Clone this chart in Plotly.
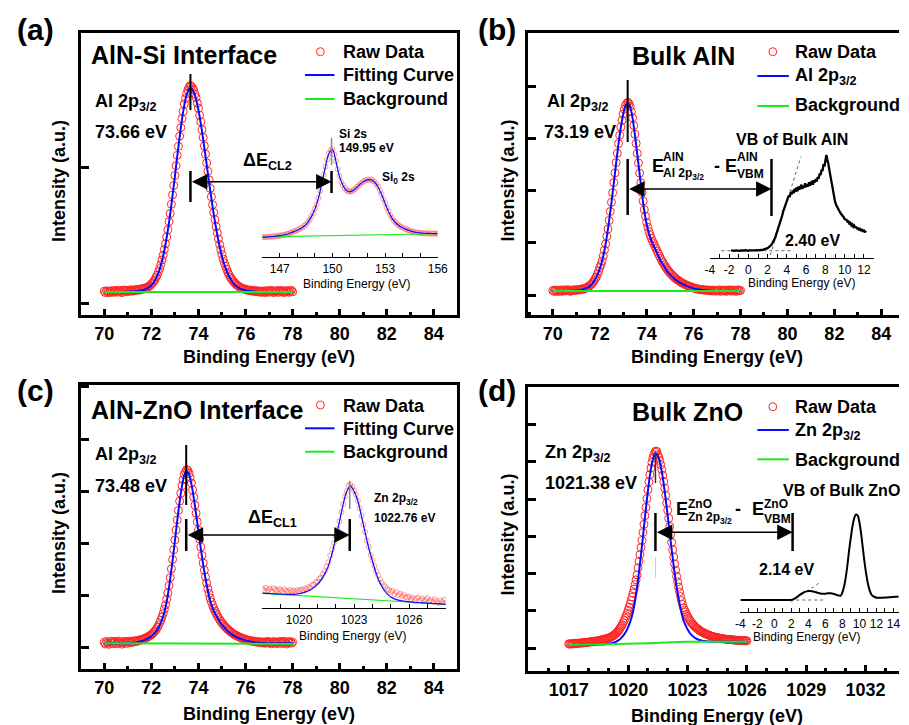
import numpy as np
import plotly.graph_objects as go

W, H = 909, 725
FONT = "Arial, 'Liberation Sans', sans-serif"
RED = "#ff2424"
BLUE = "#0a0aff"
GREEN = "#1ee81e"
PINK = "rgba(255,80,80,0.55)"

# ===================== DATA =====================
# (a) AlN-Si interface, Al 2p3/2 (normalised intensity)
A_RAW_E0, A_RAW_DE = 70.0, 0.05
A_RAW = [
    0.004, -0.003, 0.006, 0.002, -0.004, 0.005, 0.000, 0.007, -0.002, 0.003,
    0.008, -0.001, 0.004, 0.009, 0.002, -0.003, 0.006, 0.010, 0.003, 0.008,
    0.002, 0.009, 0.005, 0.011, 0.004, 0.010, 0.007, 0.012, 0.008, 0.014,
    0.010, 0.015, 0.012, 0.018, 0.016, 0.020, 0.021, 0.024, 0.029, 0.031,
    0.040, 0.044, 0.053, 0.060, 0.073, 0.083, 0.099, 0.115, 0.134, 0.157,
    0.180, 0.208, 0.236, 0.270, 0.305, 0.345, 0.385, 0.430, 0.476, 0.522,
    0.571, 0.619, 0.670, 0.714, 0.764, 0.806, 0.850, 0.885, 0.922, 0.948,
    0.973, 0.990, 1.004, 1.012, 1.008, 0.998, 0.990, 0.970, 0.953, 0.926,
    0.901, 0.866, 0.834, 0.795, 0.758, 0.716, 0.676, 0.633, 0.592, 0.550,
    0.508, 0.467, 0.428, 0.390, 0.355, 0.321, 0.290, 0.260, 0.233, 0.207,
    0.184, 0.162, 0.143, 0.126, 0.111, 0.096, 0.085, 0.073, 0.065, 0.056,
    0.050, 0.043, 0.038, 0.032, 0.029, 0.024, 0.022, 0.018, 0.017, 0.013,
    0.014, 0.010, 0.011, 0.007, 0.009, 0.005, 0.008, 0.003, 0.007, 0.002,
    0.006, 0.001, 0.005, -0.002, 0.004, 0.000, 0.006, -0.003, 0.003, 0.007,
    -0.001, 0.004, 0.008, 0.001, -0.003, 0.005, 0.002, 0.007, -0.002, 0.004,
    0.008, 0.000, 0.005, -0.003, 0.006, 0.002, 0.007, -0.001, 0.004, 0.008,
    0.001,
]
A_FIT_E0, A_FIT_DE = 70.0, 0.1
A_FIT = [
    0, 0, 0, 0, 0, 0, 0, 0, 0, 0.001,
    0.001, 0.002, 0.002, 0.003, 0.004, 0.006, 0.008, 0.011, 0.016, 0.023,
    0.033, 0.047, 0.067, 0.094, 0.130, 0.176, 0.233, 0.302, 0.382, 0.472,
    0.567, 0.665, 0.759, 0.845, 0.916, 0.967, 0.995, 0.998, 0.981, 0.944,
    0.892, 0.825, 0.749, 0.666, 0.582, 0.498, 0.418, 0.345, 0.280, 0.223,
    0.174, 0.134, 0.102, 0.076, 0.056, 0.040, 0.029, 0.021, 0.015, 0.011,
    0.008, 0.006, 0.004, 0.003, 0.002, 0.001, 0, 0, 0, 0,
    0, 0, 0, 0, 0, 0, 0, 0, 0, 0,
    0,
]
A_BG_E = [70.0, 78.0]
A_BG = [0.0, 0.0]
A_PEAK = 73.66

# (a) inset: Si 2s
IA_RAW_E0, IA_RAW_DE = 146.0, 0.1
IA_RAW = [
    0.004, -0.003, 0.006, 0.002, 0.009, 0.004, 0.012, 0.008, 0.016, 0.012,
    0.022, 0.018, 0.030, 0.027, 0.038, 0.040, 0.051, 0.055, 0.068, 0.070,
    0.083, 0.090, 0.104, 0.111, 0.131, 0.147, 0.173, 0.200, 0.238, 0.272,
    0.322, 0.375, 0.444, 0.523, 0.617, 0.708, 0.800, 0.881, 0.950, 0.988,
    0.998, 0.940, 0.864, 0.771, 0.694, 0.630, 0.592, 0.556, 0.534, 0.518,
    0.519, 0.520, 0.536, 0.548, 0.571, 0.585, 0.608, 0.621, 0.638, 0.644,
    0.654, 0.649, 0.656, 0.640, 0.630, 0.602, 0.574, 0.530, 0.489, 0.433,
    0.389, 0.335, 0.294, 0.250, 0.219, 0.186, 0.169, 0.146, 0.135, 0.118,
    0.111, 0.097, 0.093, 0.080, 0.078, 0.066, 0.065, 0.055, 0.057, 0.048,
    0.052, 0.044, 0.049, 0.042, 0.047, 0.040, 0.046, 0.039, 0.045, 0.038,
    0.044,
]
IA_FIT_E0, IA_FIT_DE = 146.0, 0.2
IA_FIT = [
    0.000, 0.003, 0.006, 0.009, 0.013, 0.019, 0.026, 0.035, 0.048, 0.064,
    0.080, 0.100, 0.128, 0.170, 0.234, 0.318, 0.440, 0.615, 0.796, 0.947,
    0.995, 0.860, 0.690, 0.589, 0.530, 0.515, 0.532, 0.568, 0.605, 0.635,
    0.650, 0.652, 0.626, 0.570, 0.485, 0.385, 0.290, 0.215, 0.165, 0.132,
    0.108, 0.090, 0.075, 0.062, 0.054, 0.049, 0.046, 0.044, 0.043, 0.042,
    0.041,
]
IA_BG_E = [146.0, 151.0, 156.0]
IA_BG = [0.005, 0.022, 0.040]
IA_PEAK = 149.95

# (b) Bulk AlN, Al 2p3/2
B_RAW_E0, B_RAW_DE = 70.0, 0.05
B_RAW = [
    0.003, -0.002, 0.005, 0.001, -0.003, 0.004, 0.000, 0.006, -0.002, 0.003,
    0.006, 0.000, 0.004, 0.007, 0.001, -0.002, 0.005, 0.002, 0.006, 0.003,
    0.007, 0.004, 0.008, 0.006, 0.010, 0.008, 0.013, 0.011, 0.017, 0.016,
    0.022, 0.025, 0.032, 0.037, 0.045, 0.053, 0.064, 0.074, 0.090, 0.106,
    0.125, 0.140, 0.160, 0.186, 0.218, 0.250, 0.290, 0.330, 0.375, 0.423,
    0.472, 0.523, 0.577, 0.628, 0.683, 0.733, 0.784, 0.828, 0.872, 0.908,
    0.942, 0.967, 0.987, 0.998, 1.004, 0.996, 0.982, 0.954, 0.921, 0.880,
    0.834, 0.785, 0.732, 0.681, 0.627, 0.576, 0.525, 0.478, 0.432, 0.398,
    0.364, 0.339, 0.316, 0.296, 0.280, 0.265, 0.252, 0.238, 0.225, 0.211,
    0.198, 0.185, 0.172, 0.160, 0.150, 0.139, 0.129, 0.120, 0.111, 0.103,
    0.096, 0.089, 0.082, 0.076, 0.071, 0.065, 0.060, 0.056, 0.052, 0.047,
    0.044, 0.040, 0.037, 0.034, 0.031, 0.029, 0.025, 0.024, 0.020, 0.019,
    0.016, 0.015, 0.012, 0.012, 0.009, 0.010, 0.007, 0.008, 0.005, 0.007,
    0.004, 0.006, 0.002, 0.005, 0.001, 0.004, 0.000, 0.005, 0.002, -0.001,
    0.004, 0.001, 0.006, -0.002, 0.003, 0.005, 0.000, 0.004, -0.002, 0.005,
    0.002, 0.006, -0.001, 0.004, 0.001, 0.005, -0.002, 0.003, 0.006, 0.001,
    0.003,
]
B_FIT_E0, B_FIT_DE = 70.0, 0.1
B_FIT = [
    0, 0, 0, 0, 0, 0, 0, 0, 0.001, 0.002,
    0.003, 0.004, 0.006, 0.009, 0.013, 0.019, 0.028, 0.041, 0.060, 0.086,
    0.118, 0.160, 0.215, 0.288, 0.373, 0.470, 0.575, 0.681, 0.782, 0.871,
    0.940, 0.985, 1.000, 0.978, 0.918, 0.830, 0.728, 0.622, 0.518, 0.425,
    0.355, 0.305, 0.268, 0.240, 0.213, 0.186, 0.161, 0.139, 0.119, 0.102,
    0.087, 0.074, 0.063, 0.054, 0.046, 0.039, 0.033, 0.027, 0.022, 0.018,
    0.014, 0.011, 0.009, 0.007, 0.005, 0.004, 0.003, 0.002, 0.001, 0,
    0, 0, 0, 0, 0, 0, 0, 0, 0, 0,
    0,
]
B_BG_E = [70.0, 78.0]
B_BG = [0.0, 0.0]
B_PEAK = 73.19

# (b) inset: valence band of bulk AlN
IB_E0, IB_DE = -1.8, 0.1
IB_VB = [
    0.003, 0.000, 0.004, 0.001, -0.002, 0.003, 0.000, 0.004, 0.002, -0.001,
    0.003, 0.001, 0.004, 0.000, 0.002, 0.005, 0.001, 0.003, 0.000, 0.004,
    0.002, 0.005, 0.001, 0.004, 0.003, 0.006, 0.002, 0.005, 0.004, 0.007,
    0.005, 0.008, 0.006, 0.009, 0.008, 0.012, 0.014, 0.020, 0.026, 0.034,
    0.040, 0.052, 0.061, 0.080, 0.095, 0.118, 0.142, 0.171, 0.196, 0.232,
    0.258, 0.296, 0.330, 0.362, 0.405, 0.432, 0.470, 0.488, 0.527, 0.541,
    0.578, 0.560, 0.612, 0.590, 0.630, 0.601, 0.648, 0.615, 0.660, 0.622,
    0.671, 0.638, 0.662, 0.690, 0.645, 0.682, 0.658, 0.705, 0.664, 0.693,
    0.672, 0.714, 0.681, 0.700, 0.728, 0.690, 0.735, 0.712, 0.748, 0.722,
    0.770, 0.752, 0.805, 0.790, 0.846, 0.832, 0.905, 0.880, 0.965, 1.000,
    0.950, 0.915, 0.850, 0.790, 0.720, 0.668, 0.610, 0.565, 0.515, 0.482,
    0.458, 0.440, 0.420, 0.405, 0.388, 0.377, 0.356, 0.350, 0.330, 0.322,
    0.322, 0.301, 0.305, 0.282, 0.290, 0.265, 0.275, 0.250, 0.262, 0.238,
    0.252, 0.225, 0.241, 0.212, 0.235, 0.205, 0.226, 0.198, 0.218, 0.192,
    0.210,
]
IB_BASE_E = [-2.8, 4.7]
IB_BASE = [0.0, 0.0]
IB_EDGE_E = [2.29, 5.46]
IB_EDGE = [-0.045, 0.983]
IB_VBM = 2.40
IB_TICKS = [-4, -2, 0, 2, 4, 6, 8, 10, 12]
IB_TICKTEXT = ["-4", "-2", "0", "2", "4", "6", "8", "10", "12"]

# (c) AlN-ZnO interface, Al 2p3/2
C_RAW_E0, C_RAW_DE = 70.0, 0.05
C_RAW = [
    0.006, -0.004, 0.010, 0.002, -0.006, 0.008, 0.012, -0.002, 0.005, 0.011,
    -0.003, 0.007, 0.013, 0.001, 0.009, -0.005, 0.004, 0.012, 0.006, -0.001,
    0.008, 0.013, 0.003, 0.010, 0.006, 0.014, 0.009, 0.015, 0.011, 0.018,
    0.016, 0.021, 0.019, 0.026, 0.027, 0.030, 0.034, 0.036, 0.041, 0.046,
    0.050, 0.056, 0.063, 0.071, 0.080, 0.092, 0.103, 0.118, 0.133, 0.152,
    0.172, 0.197, 0.223, 0.256, 0.292, 0.335, 0.381, 0.432, 0.486, 0.543,
    0.600, 0.658, 0.716, 0.771, 0.825, 0.871, 0.915, 0.950, 0.980, 0.997,
    1.008, 1.002, 0.986, 0.961, 0.930, 0.890, 0.848, 0.802, 0.755, 0.705,
    0.656, 0.606, 0.558, 0.510, 0.466, 0.424, 0.385, 0.349, 0.317, 0.289,
    0.263, 0.240, 0.220, 0.203, 0.187, 0.173, 0.160, 0.149, 0.137, 0.127,
    0.118, 0.110, 0.101, 0.094, 0.087, 0.080, 0.074, 0.069, 0.063, 0.058,
    0.054, 0.049, 0.046, 0.042, 0.038, 0.036, 0.032, 0.030, 0.027, 0.025,
    0.023, 0.020, 0.019, 0.016, 0.016, 0.012, 0.014, 0.010, 0.012, 0.007,
    0.010, 0.005, 0.009, 0.003, 0.008, 0.002, 0.009, 0.000, 0.006, 0.011,
    0.002, 0.008, -0.003, 0.006, 0.010, 0.001, 0.007, -0.002, 0.009, 0.004,
    0.011, -0.001, 0.006, 0.012, 0.003, -0.004, 0.008, 0.005, 0.010, 0.001,
    0.006,
]
C_FIT_E0, C_FIT_DE = 70.0, 0.1
C_FIT = [
    0, 0, 0, 0, 0, 0, 0, 0, 0, 0,
    0, 0.001, 0.002, 0.004, 0.006, 0.009, 0.013, 0.018, 0.024, 0.032,
    0.041, 0.053, 0.069, 0.090, 0.118, 0.155, 0.208, 0.280, 0.372, 0.478,
    0.595, 0.712, 0.820, 0.912, 0.975, 1.000, 0.980, 0.925, 0.845, 0.750,
    0.650, 0.550, 0.458, 0.375, 0.305, 0.248, 0.205, 0.174, 0.150, 0.128,
    0.108, 0.091, 0.076, 0.064, 0.053, 0.044, 0.037, 0.031, 0.026, 0.021,
    0.017, 0.013, 0.010, 0.008, 0.006, 0.004, 0.003, 0.002, 0.001, 0,
    0, 0, 0, 0, 0, 0, 0, 0, 0, 0,
    0,
]
C_BG_E = [70.0, 78.0]
C_BG = [0.0, -0.004]
C_PEAK = 73.48

# (c) inset: Zn 2p3/2
IC_RAW_E0, IC_RAW_DE = 1018.0, 0.1
IC_RAW = [
    0.045, 0.028, 0.052, 0.030, 0.041, 0.022, 0.048, 0.035, 0.026, 0.040,
    0.030, 0.018, 0.036, 0.024, 0.015, 0.032, 0.021, 0.028, 0.012, 0.030,
    0.022, 0.035, 0.028, 0.045, 0.040, 0.058, 0.052, 0.075, 0.080, 0.102,
    0.108, 0.135, 0.148, 0.180, 0.205, 0.248, 0.290, 0.352, 0.410, 0.468,
    0.530, 0.598, 0.672, 0.756, 0.830, 0.902, 0.955, 1.005, 1.012, 0.990,
    0.958, 0.918, 0.862, 0.792, 0.722, 0.640, 0.572, 0.490, 0.432, 0.358,
    0.308, 0.255, 0.205, 0.168, 0.128, 0.100, 0.075, 0.058, 0.038, 0.030,
    0.012, 0.022, -0.008, 0.010, -0.020, -0.005, -0.028, -0.012, -0.035, -0.040,
    -0.030, -0.055, -0.042, -0.060, -0.048, -0.038, -0.065, -0.050, -0.072, -0.058,
    -0.045, -0.070, -0.062, -0.080, -0.055, -0.075, -0.090, -0.068, -0.082, -0.060,
    -0.085,
]
IC_FIT_E0, IC_FIT_DE = 1018.0, 0.2
IC_FIT = [
    0.002, 0.000, -0.002, -0.004, -0.006, -0.008, -0.009, -0.010, -0.010, -0.008,
    -0.004, 0.004, 0.016, 0.031, 0.053, 0.083, 0.125, 0.182, 0.258, 0.375,
    0.515, 0.668, 0.828, 0.950, 0.998, 0.950, 0.860, 0.720, 0.565, 0.420,
    0.300, 0.186, 0.100, 0.038, -0.006, -0.035, -0.052, -0.064, -0.071, -0.076,
    -0.080, -0.083, -0.086, -0.088, -0.090, -0.092, -0.094, -0.096, -0.098, -0.100,
    -0.102,
]
IC_BG_E = [1018.0, 1028.0]
IC_BG = [0.0, -0.102]
IC_PEAK = 1022.76

# (d) Bulk ZnO, Zn 2p3/2
D_RAW_E0, D_RAW_DE = 1017.0, 0.05
D_RAW = [
    0.001, -0.001, 0.002, 0.000, 0.003, 0.001, 0.002, 0.004, 0.002, 0.004,
    0.005, 0.004, 0.006, 0.005, 0.007, 0.006, 0.008, 0.007, 0.009, 0.008,
    0.010, 0.011, 0.011, 0.013, 0.012, 0.014, 0.014, 0.016, 0.015, 0.017,
    0.018, 0.019, 0.020, 0.022, 0.022, 0.024, 0.025, 0.027, 0.028, 0.030,
    0.031, 0.033, 0.036, 0.038, 0.041, 0.044, 0.048, 0.052, 0.057, 0.063,
    0.069, 0.076, 0.084, 0.093, 0.102, 0.113, 0.124, 0.136, 0.149, 0.163,
    0.179, 0.195, 0.211, 0.230, 0.249, 0.270, 0.291, 0.314, 0.339, 0.365,
    0.403, 0.437, 0.473, 0.510, 0.548, 0.590, 0.633, 0.679, 0.723, 0.770,
    0.816, 0.858, 0.896, 0.931, 0.961, 0.984, 1.002, 1.014, 1.021, 1.018,
    1.000, 0.987, 0.970, 0.948, 0.923, 0.893, 0.860, 0.824, 0.786, 0.746,
    0.707, 0.665, 0.622, 0.580, 0.538, 0.498, 0.460, 0.424, 0.390, 0.358,
    0.329, 0.301, 0.275, 0.251, 0.229, 0.209, 0.191, 0.180, 0.169, 0.157,
    0.147, 0.137, 0.128, 0.120, 0.113, 0.107, 0.101, 0.095, 0.090, 0.085,
    0.081, 0.077, 0.073, 0.069, 0.066, 0.063, 0.060, 0.057, 0.055, 0.052,
    0.050, 0.048, 0.046, 0.044, 0.042, 0.040, 0.039, 0.037, 0.036, 0.035,
    0.034, 0.033, 0.031, 0.030, 0.029, 0.028, 0.027, 0.027, 0.026, 0.025,
    0.025, 0.024, 0.024, 0.023, 0.023, 0.022, 0.022, 0.021, 0.021, 0.020,
    0.020, 0.020, 0.019, 0.019, 0.019, 0.018, 0.018, 0.018, 0.018, 0.017,
    0.017,
]
D_FIT_E0, D_FIT_DE = 1017.0, 0.1
D_FIT = [
    -0.005, -0.005, -0.005, -0.005, -0.005, -0.004, -0.004, -0.004, -0.004, -0.004,
    -0.004, -0.004, -0.003, -0.003, -0.003, -0.003, -0.003, -0.003, -0.002, 0.000,
    0.001, 0.003, 0.005, 0.009, 0.013, 0.019, 0.027, 0.038, 0.051, 0.068,
    0.089, 0.116, 0.151, 0.198, 0.263, 0.339, 0.425, 0.521, 0.619, 0.718,
    0.811, 0.891, 0.953, 0.993, 1.006, 0.996, 0.963, 0.913, 0.845, 0.765,
    0.679, 0.588, 0.500, 0.416, 0.338, 0.271, 0.212, 0.163, 0.124, 0.100,
    0.078, 0.061, 0.048, 0.038, 0.031, 0.025, 0.021, 0.018, 0.016, 0.015,
    0.014, 0.013, 0.012, 0.012, 0.012, 0.012, 0.012, 0.012, 0.012, 0.012,
    0.012, 0.012, 0.012, 0.012, 0.012, 0.012, 0.012, 0.012, 0.012, 0.012,
    0.012,
]
D_BG_E = [1017.0, 1018.0, 1019.0, 1020.0, 1020.5, 1021.0, 1021.5, 1022.0, 1022.5, 1023.0, 1024.0, 1026.0]
D_BG = [-0.005, -0.004, -0.002, 0.000, 0.002, 0.004, 0.007, 0.009, 0.011, 0.012, 0.012, 0.012]
D_PEAK = 1021.38

# (d) inset: valence band of bulk ZnO
ID_E0, ID_DE = -4.0, 0.2
ID_VB = [
    0, 0, 0, 0, 0, 0, 0, 0, 0, 0,
    0, 0, 0, 0, 0, 0, 0, 0, 0, 0,
    0, 0, 0, 0, 0, 0, 0, 0, 0, 0.001,
    0.002, 0.008, 0.018, 0.030, 0.045, 0.060, 0.074, 0.086, 0.095, 0.101,
    0.104, 0.105, 0.103, 0.099, 0.093, 0.087, 0.081, 0.076, 0.073, 0.072,
    0.074, 0.077, 0.079, 0.078, 0.075, 0.070, 0.064, 0.057, 0.052, 0.052,
    0.090, 0.160, 0.270, 0.420, 0.590, 0.740, 0.870, 0.960, 0.998, 0.985,
    0.905, 0.770, 0.605, 0.440, 0.300, 0.190, 0.112, 0.065, 0.045, 0.035,
    0.026, 0.025, 0.025, 0.026, 0.027, 0.028, 0.030, 0.031, 0.033, 0.034,
    0.036, 0.037, 0.038, 0.039,
]
ID_BASE_E = [1.86, 5.72]
ID_BASE = [0.0, 0.0]
ID_EDGE_E = [1.98, 5.33]
ID_EDGE = [-0.019, 0.202]
ID_VBM = 2.14
ID_TICKS = [-4, -2, 0, 2, 4, 6, 8, 10, 12, 14]
ID_TICKTEXT = ["-4", "-2", "0", "2", "4", "6", "8", "10", "12", "14"]


def grid(e0, de, vals):
    return np.round(e0 + de * np.arange(len(vals)), 3)


# ===================== LAYOUT GEOMETRY (pixels) =====================
AX = {
    "A": dict(xd=(77, 460), yd=(33, 315), xr=(69, 85), yr=(-0.1127, 1.2696),
              yt0=-0.0539, ydt=0.6618, xt0=70, xdt=2, my=True),
    "B": dict(xd=(532, 909), yd=(33, 315), xr=(68.952, 84.754), yr=(-0.1277, 1.3723),
              yt0=-0.0213, ydt=0.2779, xt0=70, xdt=2, my=False),
    "C": dict(xd=(77, 460), yd=(385, 669), xr=(69, 85), yr=(-0.1492, 1.4991),
              yt0=-0.0232, ydt=0.3022, xt0=70, xdt=2, my=True),
    "D": dict(xd=(532, 909), yd=(387, 671), xr=(1014.95, 1033.69), yr=(-0.1429, 1.3598),
              yt0=-0.0228, ydt=0.1975, xt0=1017, xdt=3, my=False),
    "IA": dict(xd=(261.5, 440), yd=(140, 257), xr=(146, 156), yr=(-0.2231, 1.1019)),
    "IB": dict(xd=(716.7, 883.1), yd=(140, 258.3), xr=(-4, 13), yr=(-0.0794, 1.1567)),
    "IC": dict(xd=(261.7, 448.3), yd=(470, 608.3), xr=(1018, 1028), yr=(-0.1398, 1.1491)),
    "ID": dict(xd=(747.7, 909), yd=(495, 612.3), xr=(-4, 14.65), yr=(-0.1435, 1.2252)),
}
IDS = {"A": "", "B": "2", "C": "3", "D": "4", "IA": "5", "IB": "6", "IC": "7", "ID": "8"}


def xdom(a):
    return [a["xd"][0] / W, min(1.0, a["xd"][1] / W)]


def ydom(a):
    return [1 - a["yd"][1] / H, 1 - a["yd"][0] / H]


def px2x(xpx, a):
    l, r = a["xd"]
    return a["xr"][0] + (xpx - l) / (r - l) * (a["xr"][1] - a["xr"][0])


def x2px(v, a):
    l, r = a["xd"]
    return l + (v - a["xr"][0]) / (a["xr"][1] - a["xr"][0]) * (r - l)


def px2y(ypx, a):
    t, b = a["yd"]
    return a["yr"][0] + (b - ypx) / (b - t) * (a["yr"][1] - a["yr"][0])


layout = dict(width=W, height=H, margin=dict(l=0, r=0, t=0, b=0),
              paper_bgcolor="white", plot_bgcolor="rgba(0,0,0,0)",
              showlegend=False, font=dict(family=FONT, color="black"))

for k in ["A", "B", "C", "D"]:
    a = AX[k]
    i = IDS[k]
    layout["xaxis" + i] = dict(
        domain=xdom(a), range=list(a["xr"]), anchor="y" + i,
        showline=True, linewidth=3, linecolor="black", mirror=True,
        ticks="inside", ticklen=6, tickwidth=2.5, tickcolor="black",
        tickmode="linear", tick0=a["xt0"], dtick=a["xdt"],
        minor=dict(ticks="inside", tickmode="linear", tick0=a["xt0"], dtick=1,
                   ticklen=3, tickwidth=2.5, tickcolor="black", showgrid=False),
        tickfont=dict(family=FONT, size=18, color="black", weight="bold"),
        showgrid=False, zeroline=False,
    )
    layout["yaxis" + i] = dict(
        domain=ydom(a), range=list(a["yr"]), anchor="x" + i,
        showline=True, linewidth=3, linecolor="black", mirror=a["my"],
        ticks="inside", ticklen=8, tickwidth=2.5, tickcolor="black",
        tickmode="linear", tick0=a["yt0"], dtick=a["ydt"],
        showticklabels=False, showgrid=False, zeroline=False,
    )

inset_ticks = {
    "IA": dict(tickmode="linear", tick0=147, dtick=3),
    "IB": dict(tickmode="array", tickvals=IB_TICKS, ticktext=IB_TICKTEXT),
    "IC": dict(tickmode="linear", tick0=1020, dtick=3),
    "ID": dict(tickmode="array", tickvals=ID_TICKS, ticktext=ID_TICKTEXT),
}
for k in ["IA", "IB", "IC", "ID"]:
    a = AX[k]
    i = IDS[k]
    d = dict(
        domain=xdom(a), range=list(a["xr"]), anchor="y" + i,
        showline=True, linewidth=1.3, linecolor="black",
        ticks="inside", ticklen=4, tickwidth=1.2, tickcolor="black",
        minor=dict(ticks="inside", tickmode="linear", tick0=a["xr"][0], dtick=1,
                   ticklen=4, tickwidth=1.2, tickcolor="black", showgrid=False),
        tickfont=dict(family=FONT, size=12, color="black"),
        showgrid=False, zeroline=False,
    )
    d.update(inset_ticks[k])
    layout["xaxis" + i] = d
    layout["yaxis" + i] = dict(domain=ydom(a), range=list(a["yr"]), anchor="x" + i,
                               visible=False)

fig = go.Figure()


def add_main(k, raw, r0, rd, fit, f0, fd, bg_e, bg):
    i = IDS[k]
    xa, ya = "x" + i, "y" + i
    fig.add_trace(go.Scatter(x=grid(r0, rd, raw), y=raw, mode="markers",
                             marker=dict(symbol="circle-open", size=8, color=RED,
                                         line=dict(width=1, color=RED)),
                             xaxis=xa, yaxis=ya))
    fig.add_trace(go.Scatter(x=grid(f0, fd, fit), y=fit, mode="lines",
                             line=dict(color=BLUE, width=2, shape="spline"),
                             xaxis=xa, yaxis=ya))
    fig.add_trace(go.Scatter(x=bg_e, y=bg, mode="lines",
                             line=dict(color=GREEN, width=2),
                             xaxis=xa, yaxis=ya))


def add_inset_peak(k, raw, r0, rd, fit, f0, fd, bg_e, bg):
    i = IDS[k]
    xa, ya = "x" + i, "y" + i
    fig.add_trace(go.Scatter(x=grid(r0, rd, raw), y=raw, mode="markers",
                             marker=dict(symbol="circle-open", size=5, color=PINK,
                                         line=dict(width=1, color=PINK)),
                             xaxis=xa, yaxis=ya))
    fig.add_trace(go.Scatter(x=bg_e, y=bg, mode="lines",
                             line=dict(color=GREEN, width=1.2), xaxis=xa, yaxis=ya))
    fig.add_trace(go.Scatter(x=grid(f0, fd, fit), y=fit, mode="lines",
                             line=dict(color=BLUE, width=1.2, shape="spline"),
                             xaxis=xa, yaxis=ya))


def add_inset_vb(k, vb, e0, de, base_e, base, edge_e, edge, shape, width):
    i = IDS[k]
    xa, ya = "x" + i, "y" + i
    for ex, ey in ((base_e, base), (edge_e, edge)):
        fig.add_trace(go.Scatter(x=ex, y=ey, mode="lines",
                                 line=dict(color="#666666", width=1, dash="dot"),
                                 xaxis=xa, yaxis=ya))
    fig.add_trace(go.Scatter(x=grid(e0, de, vb), y=vb, mode="lines",
                             line=dict(color="black", width=width, shape=shape),
                             xaxis=xa, yaxis=ya))


add_main("A", A_RAW, A_RAW_E0, A_RAW_DE, A_FIT, A_FIT_E0, A_FIT_DE, A_BG_E, A_BG)
add_main("B", B_RAW, B_RAW_E0, B_RAW_DE, B_FIT, B_FIT_E0, B_FIT_DE, B_BG_E, B_BG)
add_main("C", C_RAW, C_RAW_E0, C_RAW_DE, C_FIT, C_FIT_E0, C_FIT_DE, C_BG_E, C_BG)
add_main("D", D_RAW, D_RAW_E0, D_RAW_DE, D_FIT, D_FIT_E0, D_FIT_DE, D_BG_E, D_BG)
add_inset_peak("IA", IA_RAW, IA_RAW_E0, IA_RAW_DE, IA_FIT, IA_FIT_E0, IA_FIT_DE, IA_BG_E, IA_BG)
add_inset_peak("IC", IC_RAW, IC_RAW_E0, IC_RAW_DE, IC_FIT, IC_FIT_E0, IC_FIT_DE, IC_BG_E, IC_BG)
add_inset_vb("IB", IB_VB, IB_E0, IB_DE, IB_BASE_E, IB_BASE, IB_EDGE_E, IB_EDGE, "linear", 2.3)
add_inset_vb("ID", ID_VB, ID_E0, ID_DE, ID_BASE_E, ID_BASE, ID_EDGE_E, ID_EDGE, "spline", 2)

# ===================== ANNOTATIONS =====================
ann = []


def T(x, y, text, size=18, bold=True, xanchor="left", angle=0, color="black"):
    ann.append(dict(x=x / W, y=1 - y / H, xref="paper", yref="paper",
                    text=("<b>%s</b>" % text) if bold else text, showarrow=False,
                    xanchor=xanchor, yanchor="middle", textangle=angle,
                    font=dict(family=FONT, size=size, color=color)))


# panel letters
T(31, 30, "(a)", 30, xanchor="center")
T(500, 30, "(b)", 30, xanchor="center")
T(31, 390, "(c)", 30, xanchor="center")
T(500, 390, "(d)", 30, xanchor="center")
# titles
T(85, 55, "AlN-Si Interface", 25)
T(635, 56, "Bulk AlN", 25)
T(85, 409.5, "AlN-ZnO Interface", 25)
T(635, 411.5, "Bulk ZnO", 25)
# peak labels
T(89, 103, "Al 2p<sub>3/2</sub>", 18)
T(89, 132, "%.2f eV" % A_PEAK, 18)
T(549, 103, "Al 2p<sub>3/2</sub>", 18)
T(545.7, 132, "%.2f eV" % B_PEAK, 18)
T(89, 455, "Al 2p<sub>3/2</sub>", 18)
T(89, 486, "%.2f eV" % C_PEAK, 18)
T(546.7, 453, "Zn 2p<sub>3/2</sub>", 18)
T(546.7, 482.5, "%.2f eV" % D_PEAK, 18)
# legends (text)
for (lx, ys, labels) in [
    (342, (52, 75, 99), ("Raw Data", "Fitting Curve", "Background")),
    (801.7, (52, 77, 105), ("Raw Data", "Al 2p<sub>3/2</sub>", "Background")),
    (342, (406, 429, 452), ("Raw Data", "Fitting Curve", "Background")),
    (801.7, (407, 431, 460), ("Raw Data", "Zn 2p<sub>3/2</sub>", "Background")),
]:
    for yy, lab in zip(ys, labels):
        T(lx, yy, lab, 18)
# axis titles
for cx, cy in [(268.5, 357), (724, 357), (268.5, 714), (724, 716)]:
    T(cx, cy, "Binding Energy (eV)", 18, xanchor="center")
for cx, cy in [(55, 181), (511, 181), (55, 533), (511, 535)]:
    T(cx, cy, "Intensity (a.u.)", 18, xanchor="center", angle=-90)
# inset labels
T(338, 134, "Si 2s", 12)
T(338, 148, "%.2f eV" % IA_PEAK, 12)
T(381, 178, "Si<sub>0</sub> 2s", 12)
T(240, 162, "ΔE<sub>CL2</sub>", 18)
T(741.7, 139, "VB of Bulk AlN", 16)
T(790.7, 240, "%.2f eV" % IB_VBM, 16)
T(373, 499, "Zn 2p<sub>3/2</sub>", 12)
T(373, 518, "%.2f eV" % IC_PEAK, 12)
T(245, 518, "ΔE<sub>CL1</sub>", 18)
T(789, 491, "VB of Bulk ZnO", 16)
T(765, 569, "%.2f eV" % ID_VBM, 16)
# E^AlN_Al2p - E^AlN_VBM
T(655.7, 166, "E", 18)
T(667, 157, "AlN", 12)
T(667, 174, "Al 2p<sub>3/2</sub>", 12)
T(718.5, 166, "-", 18)
T(730.5, 166, "E", 18)
T(742.5, 157, "AlN", 12)
T(742.5, 174, "VBM", 12)
# E^ZnO_Zn2p - E^ZnO_VBM
T(680.7, 509, "E", 18)
T(692.5, 503.5, "ZnO", 12)
T(692.5, 518, "Zn 2p<sub>3/2</sub>", 12)
T(740.5, 509, "-", 18)
T(757, 509, "E", 18)
T(769.5, 503.5, "ZnO", 12)
T(769.5, 519, "VBM", 12)
# inset axis titles
for cx, cy in [(357.5, 284), (809.7, 283), (353.3, 636), (815, 637)]:
    T(cx, cy, "Binding Energy (eV)", 12, bold=False, xanchor="center")


# double-headed arrows between the marked levels
def arrow(k, x_tail, x_head, ypx):
    a = AX[k]
    i = IDS[k]
    y = px2y(ypx, a)
    ann.append(dict(x=x_head, y=y, ax=x_tail, ay=y, xref="x" + i, yref="y" + i,
                    axref="x" + i, ayref="y" + i, text="", showarrow=True,
                    arrowhead=2, startarrowhead=2, arrowside="end+start",
                    arrowsize=2.2, startarrowsize=2.2, arrowwidth=1.4,
                    arrowcolor="black"))


arrow("A", A_PEAK, px2x(x2px(IA_PEAK, AX["IA"]), AX["A"]), 181.7)
arrow("B", B_PEAK, px2x(x2px(IB_VBM, AX["IB"]), AX["B"]), 189)
arrow("C", C_PEAK, px2x(x2px(IC_PEAK, AX["IC"]), AX["C"]), 535)
arrow("D", D_PEAK, px2x(x2px(ID_VBM, AX["ID"]), AX["D"]), 532.3)

# ===================== SHAPES =====================
shapes = []


def vline(k, x, y0, y1, width=2.0, color="black"):
    shapes.append(dict(type="line", xref="x" + IDS[k], yref="paper", x0=x, x1=x,
                       y0=1 - y0 / H, y1=1 - y1 / H,
                       line=dict(color=color, width=width)))


vline("A", A_PEAK, 74, 110, 2)
vline("A", A_PEAK, 171, 202, 2.5)
vline("IA", IA_PEAK, 138, 165, 1.5, "#888888")
vline("IA", IA_PEAK, 171, 193, 2.5)
vline("B", B_PEAK, 80, 142, 2)
vline("B", B_PEAK, 159, 215, 2.5)
vline("IB", IB_VBM, 159, 216, 2.5)
vline("C", C_PEAK, 445, 505, 2)
vline("C", C_PEAK, 519, 551, 2.5)
vline("IC", IC_PEAK, 481, 509, 1.5, "#888888")
vline("IC", IC_PEAK, 519, 551, 2.5)
vline("D", D_PEAK, 452, 483, 1.5, "#333333")
vline("D", D_PEAK, 557, 578, 1, "#cccccc")
vline("D", D_PEAK, 513, 551, 2.5)
vline("ID", ID_VBM, 513, 551, 2.5)

# legend symbols
for cx, cy, y_blue, y_green, x0, x1 in [
    (320.7, 51.7, 75, 99, 305, 335),
    (780.7, 51.7, 76, 106, 765, 797),
    (320.7, 405, 428.3, 451.7, 305, 335),
    (780.7, 406.7, 430, 459.3, 765, 797),
]:
    shapes.append(dict(type="circle", xref="paper", yref="paper",
                       x0=(cx - 4) / W, x1=(cx + 4) / W,
                       y0=1 - (cy + 4) / H, y1=1 - (cy - 4) / H,
                       line=dict(color=RED, width=1)))
    shapes.append(dict(type="line", xref="paper", yref="paper",
                       x0=x0 / W, x1=x1 / W, y0=1 - y_blue / H, y1=1 - y_blue / H,
                       line=dict(color=BLUE, width=2)))
    shapes.append(dict(type="line", xref="paper", yref="paper",
                       x0=x0 / W, x1=x1 / W, y0=1 - y_green / H, y1=1 - y_green / H,
                       line=dict(color=GREEN, width=2)))

layout["annotations"] = ann
layout["shapes"] = shapes
fig.update_layout(**layout)

fig.write_html("out.html", config={"displayModeBar": False},
               post_script="document.body.style.margin='0';")
